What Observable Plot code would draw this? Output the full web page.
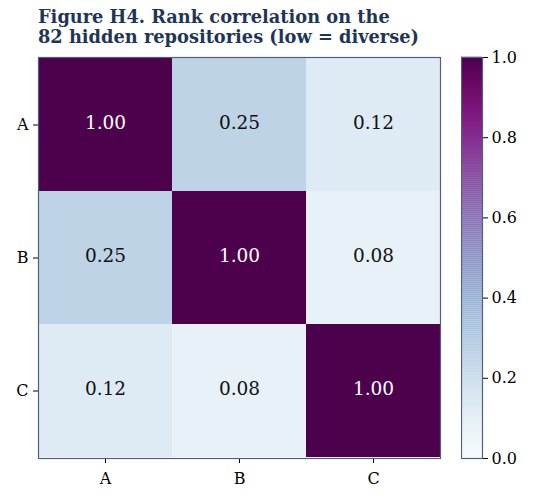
<!DOCTYPE html>
<html>
<head>
<meta charset="utf-8">
<script src="https://cdn.jsdelivr.net/npm/d3@7"></script>
<script src="https://cdn.jsdelivr.net/npm/@observablehq/plot@0.6"></script>
<style>
  body { margin: 0; background: #fff; }
  #wrap { position: relative; width: 533px; height: 500px; overflow: hidden; }
  #title { position: absolute; left: 38px; top: 7px; font-family: "DejaVu Serif", serif; font-weight: bold; font-size: 17.8px; line-height: 20px; color: #1f3558; white-space: nowrap; }
  #main, #cbar { position: absolute; top: 0; }
  #main { left: 0; }
  #cbar { left: 461px; }
</style>
</head>
<body>
<div id="wrap">
  <div id="main"></div>
  <div id="cbar"></div>
  <div id="title">Figure H4. Rank correlation on the<br>82 hidden repositories (low = diverse)</div>
</div>
<script>
const labels = ["A", "B", "C"];
const rowA = [1.00, 0.25, 0.12];
const rowB = [0.25, 1.00, 0.08];
const rowC = [0.12, 0.08, 1.00];
const cbarTicks = [0.0, 0.2, 0.4, 0.6, 0.8, 1.0];

const rows = [rowA, rowB, rowC];
const cells = [];
rows.forEach((r, i) => r.forEach((v, j) => cells.push({row: labels[i], col: labels[j], v})));

const frameColor = "#4f5f82";
const font = "DejaVu Serif, serif";
const noText = () => "";

const main = Plot.plot({
  width: 533, height: 500,
  marginTop: 57, marginBottom: 42, marginLeft: 38, marginRight: 93,
  style: {fontFamily: font, color: "#000", background: "transparent"},
  x: {domain: labels, padding: 0, axis: null},
  y: {domain: labels, padding: 0, axis: null},
  color: {type: "linear", scheme: "BuPu", domain: [0, 1]},
  marks: [
    Plot.cell(cells, {x: "col", y: "row", fill: "v", inset: 0}),
    Plot.text(cells, {x: "col", y: "row", dy: -1.5, text: d => d.v.toFixed(2), fill: d => d.v > 0.5 ? "white" : "#111", fontSize: 18.5, fontFamily: font}),
    Plot.axisX({label: null, tickSize: 5, tickFormat: noText}),
    Plot.axisY({label: null, tickSize: 5, tickFormat: noText}),
    Plot.text(labels, {x: d => d, frameAnchor: "bottom", lineAnchor: "middle", dy: 20, fontSize: 16, fontFamily: font, fill: "#000"}),
    Plot.text(labels, {y: d => d, frameAnchor: "left", dx: -10, textAnchor: "end", fontSize: 16, fontFamily: font, fill: "#000"}),
    Plot.frame({stroke: frameColor, strokeWidth: 1.2})
  ]
});
document.getElementById("main").appendChild(main);

const steps = d3.range(0, 1, 0.005);
const cbar = Plot.plot({
  width: 72, height: 500,
  marginTop: 57, marginBottom: 42, marginLeft: 0, marginRight: 51,
  style: {fontFamily: font, color: "#000", background: "transparent"},
  x: {domain: [0, 1], axis: null},
  y: {domain: [0, 1], axis: null},
  color: {type: "linear", scheme: "BuPu", domain: [0, 1]},
  marks: [
    Plot.rect(steps, {x1: 0, x2: 1, y1: d => d, y2: d => d + 0.0055, fill: d => d + 0.0025}),
    Plot.axisY({anchor: "right", ticks: cbarTicks, tickFormat: noText, label: null, tickSize: 5}),
    Plot.text(cbarTicks, {y: d => d, frameAnchor: "right", dx: 9, textAnchor: "start", text: d3.format(".1f"), fontSize: 16, fontFamily: font, fill: "#000"}),
    Plot.frame({stroke: frameColor, strokeWidth: 1.2})
  ]
});
document.getElementById("cbar").appendChild(cbar);
</script>
</body>
</html>
